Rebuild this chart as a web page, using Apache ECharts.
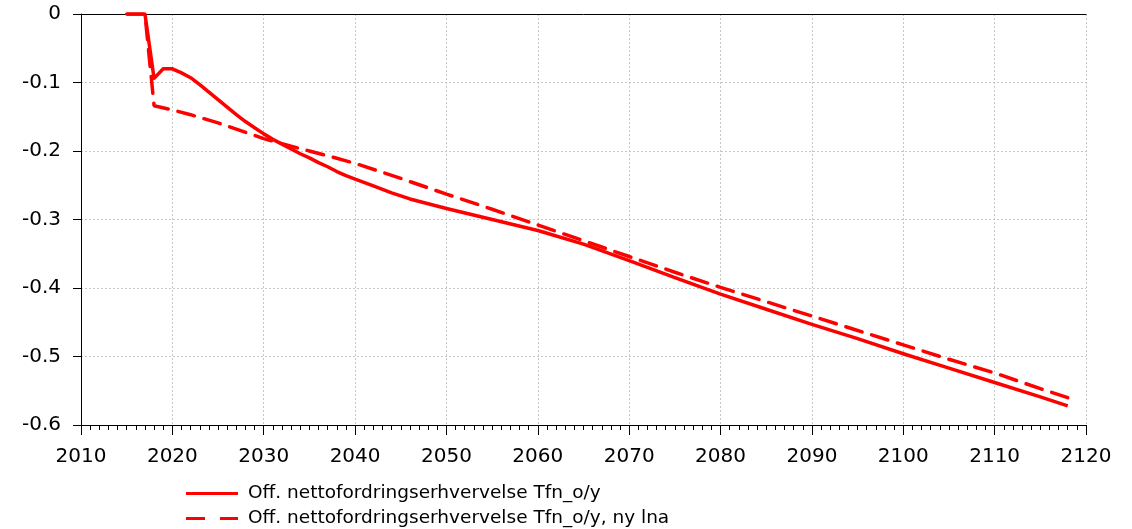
<!DOCTYPE html>
<html>
<head>
<meta charset="utf-8">
<script src="https://cdn.jsdelivr.net/npm/echarts@6/dist/echarts.min.js"></script>
<style>html,body{margin:0;padding:0;background:#fff}#c{width:1132px;height:529px}</style>
</head>
<body>
<div id="c"></div>
<script>
const seriesNames = ["Off. nettofordringserhvervelse Tfn_o/y", "Off. nettofordringserhvervelse Tfn_o/y, ny lna"];
const solidYears = [2015,2016,2017,2018,2019,2020,2021,2022,2023,2024,2025,2026,2027,2028,2029,2030,2031,2032,2033,2034,2035,2036,2037,2038,2039,2040,2042,2044,2046,2048,2050,2055,2060,2065,2070,2075,2080,2085,2090,2095,2100,2105,2110,2115,2118];
const solidValues = [0,0,0,-0.094,-0.080,-0.080,-0.086,-0.093,-0.103,-0.114,-0.125,-0.136,-0.147,-0.157,-0.166,-0.175,-0.183,-0.190,-0.197,-0.204,-0.210,-0.217,-0.223,-0.230,-0.236,-0.241,-0.251,-0.261,-0.270,-0.277,-0.284,-0.300,-0.316,-0.336,-0.360,-0.385,-0.409,-0.431,-0.453,-0.474,-0.496,-0.517,-0.538,-0.559,-0.572];
const dashedYears = [2015,2016,2017,2018,2020,2022,2025,2027,2030,2033,2035,2037,2040,2045,2050,2055,2060,2065,2070,2075,2080,2085,2090,2095,2100,2105,2110,2115,2118];
const dashedValues = [0,0,0,-0.134,-0.140,-0.147,-0.159,-0.168,-0.182,-0.193,-0.200,-0.207,-0.218,-0.240,-0.263,-0.285,-0.308,-0.331,-0.354,-0.377,-0.399,-0.420,-0.441,-0.462,-0.483,-0.504,-0.524,-0.547,-0.560];

const FONT = "DejaVu Sans";
const chart = echarts.init(document.getElementById('c'), null, {renderer: 'canvas'});
chart.setOption({
  animation: false,
  backgroundColor: '#fff',
  textStyle: {fontFamily: FONT},
  grid: {left: 81, right: 46, top: 14, bottom: 104, containLabel: false},
  legend: {
    orient: 'vertical', left: 186, top: 484, padding: 0, itemWidth: 52, itemHeight: 14, itemGap: 6,
    textStyle: {fontFamily: FONT, fontSize: 18.5, color: '#000', padding: [0, 0, 0, 5]},
    data: [
      {name: seriesNames[0], icon: 'path://M0,0H52V3H0Z'},
      {name: seriesNames[1], icon: 'path://M0,0H19V3H0Z M34,0H52V3H34Z'}
    ]
  },
  xAxis: [{
    type: 'value', min: 2010, max: 2120, interval: 10,
    axisLine: {show: true, onZero: false, lineStyle: {color: '#000', width: 1}},
    axisTick: {show: true, length: 10, lineStyle: {color: '#000'}},
    minorTick: {show: true, splitNumber: 10, length: 5, lineStyle: {color: '#000'}},
    splitLine: {show: true, lineStyle: {color: '#c8c8c8', type: [2, 2], width: 1}},
    axisLabel: {fontFamily: FONT, fontSize: 20, color: '#000', margin: 22, formatter: v => String(v)}
  }, {
    type: 'value', position: 'top', min: 2010, max: 2120,
    axisLine: {show: true, onZero: false, lineStyle: {color: '#000', width: 1}},
    axisTick: {show: false}, axisLabel: {show: false}, splitLine: {show: false}
  }],
  yAxis: {
    type: 'value', min: -0.6, max: 0, interval: 0.1,
    axisLine: {show: true, onZero: false, lineStyle: {color: '#000', width: 1}},
    axisTick: {show: true, length: 8, lineStyle: {color: '#000'}},
    splitLine: {show: true, lineStyle: {color: '#c8c8c8', type: [2, 2], width: 1}},
    axisLabel: {fontFamily: FONT, fontSize: 20, color: '#000', margin: 20,
      formatter: v => (Math.abs(v) < 1e-9 ? '0' : String(+v.toFixed(1)))}
  },
  series: [{
    name: seriesNames[0], type: 'line', symbol: 'none', smooth: false,
    data: solidYears.map((y, i) => [y, solidValues[i]]),
    lineStyle: {color: '#ff0000', width: 3.5, join: 'round'},
    itemStyle: {color: '#ff0000'}
  }, {
    name: seriesNames[1], type: 'line', symbol: 'none', smooth: false,
    data: dashedYears.map((y, i) => [y, dashedValues[i]]),
    lineStyle: {color: '#ff0000', width: 3.5, type: [17, 10], cap: 'round'},
    itemStyle: {color: '#ff0000'}
  }]
});
</script>
</body>
</html>
